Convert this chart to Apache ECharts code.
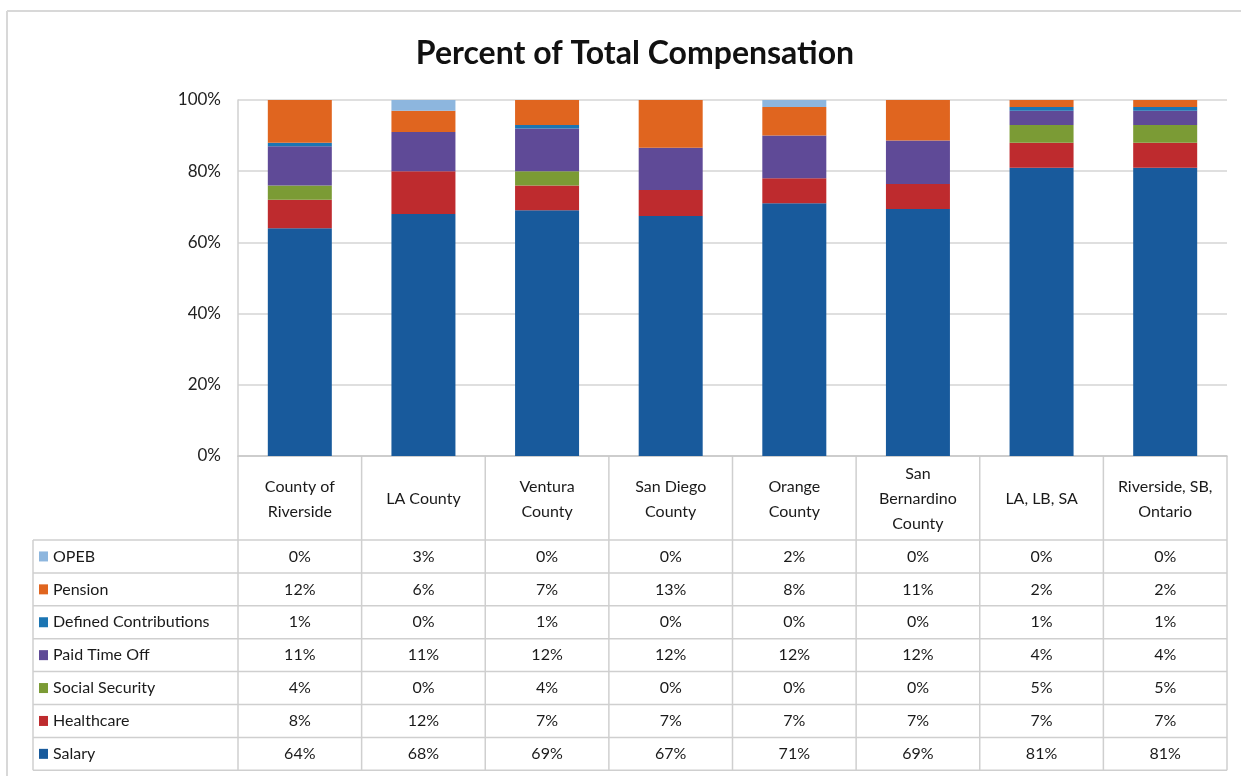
<!DOCTYPE html>
<html>
<head>
<meta charset="utf-8">
<script src="https://cdn.jsdelivr.net/npm/echarts@6/dist/echarts.min.js"></script>
<style>
html,body{margin:0;padding:0;background:#fff;}
#c{width:1241px;height:776px;}
</style>
</head>
<body>
<div id="c"></div>
<script>
// ---- data ----
const categories = ['County of Riverside','LA County','Ventura County','San Diego County','Orange County','San Bernardino County','LA, LB, SA','Riverside, SB, Ontario'];
const headerLabels = ['County of\nRiverside','LA County','Ventura\nCounty','San Diego\nCounty','Orange\nCounty','San\nBernardino\nCounty','LA, LB, SA','Riverside, SB,\nOntario'];
// values (table shows them rounded)
const salary        = [64, 68, 69, 67.4, 71, 69.4, 81, 81];
const healthcare    = [ 8, 12,  7,  7.3,  7,  7.0,  7,  7];
const socialSecurity= [ 4,  0,  4,  0,    0,  0,    5,  5];
const paidTimeOff   = [11, 11, 12, 11.9, 12, 12.2,  4,  4];
const definedContrib= [ 1,  0,  1,  0,    0,  0,    1,  1];
const pension       = [12,  6,  7, 13.4,  8, 11.4,  2,  2];
const opeb          = [ 0,  3,  0,  0,    2,  0,    0,  0];
const yTicks = [0, 20, 40, 60, 80, 100];

// stacking order bottom -> top
const seriesDefs = [
  {name:'Salary', data:salary, color:'#185A9C'},
  {name:'Healthcare', data:healthcare, color:'#BE2B2E'},
  {name:'Social Security', data:socialSecurity, color:'#7B9B35'},
  {name:'Paid Time Off', data:paidTimeOff, color:'#5F4A97'},
  {name:'Defined Contributions', data:definedContrib, color:'#1B75B3'},
  {name:'Pension', data:pension, color:'#E0651F'},
  {name:'OPEB', data:opeb, color:'#8DB6DE'}
];
// table row order (top -> bottom)
const tableOrder = ['OPEB','Pension','Defined Contributions','Paid Time Off','Social Security','Healthcare','Salary'];

const FONT = 'Lato, "Open Sans", sans-serif';
const TXT = '#1a1a1a';
const chart = echarts.init(document.getElementById('c'), null, {renderer:'canvas'});

const G = {left:238, right:14, top:100, bottom:320};
chart.setOption({
  animation:false,
  backgroundColor:'#fff',
  title:{text:'Percent of Total Compensation', left:630, textAlign:'center', top:33,
    textStyle:{fontFamily:FONT, fontSize:32, fontWeight:'bold', color:'#111'}},
  grid:G,
  xAxis:{type:'category', data:categories,
    axisLine:{show:true, lineStyle:{color:'#c8c8c8', width:1.5}},
    axisTick:{show:false}, axisLabel:{show:false}},
  yAxis:{type:'value', min:yTicks[0], max:yTicks[yTicks.length-1], interval:yTicks[1]-yTicks[0],
    axisLine:{show:true, lineStyle:{color:'#d0d0d0', width:1.5}},
    axisTick:{show:false},
    splitLine:{lineStyle:{color:'#d4d4d4', width:1.5}},
    axisLabel:{formatter:v=>v+'%', fontFamily:FONT, fontSize:17, color:'#222', margin:17}},
  series:seriesDefs.map(s=>({
    name:s.name, type:'bar', stack:'total', data:s.data, barWidth:64,
    itemStyle:{color:s.color}
  }))
});

// ---- data table drawn under the axis ----
function buildTable(){
  const xs = categories.map((c,i)=>chart.convertToPixel({xAxisIndex:0}, i));
  const band = xs.length>1 ? xs[1]-xs[0] : 120;
  const x0 = xs[0]-band/2, x1 = xs[xs.length-1]+band/2;
  const yAxisBase = chart.convertToPixel({yAxisIndex:0}, 0);
  const headerBottom = 540, rowH = 32.9, legendLeft = 33;
  const lineCol = '#cfcfcf';
  const els = [];
  // outer frame
  els.push({type:'line', shape:{x1:7,y1:11,x2:1241,y2:11}, style:{stroke:'#d8d8d8', lineWidth:2}});
  els.push({type:'line', shape:{x1:7,y1:11,x2:7,y2:776}, style:{stroke:'#d8d8d8', lineWidth:2}});
  // column boundaries
  for(let i=0;i<=xs.length;i++){
    const x = x0 + i*band;
    els.push({type:'line', shape:{x1:x,y1:yAxisBase,x2:x,y2:headerBottom+rowH*7}, style:{stroke:lineCol, lineWidth:1.5}});
  }
  els.push({type:'line', shape:{x1:legendLeft,y1:headerBottom,x2:legendLeft,y2:headerBottom+rowH*7}, style:{stroke:lineCol, lineWidth:1.5}});
  // row boundaries
  for(let r=0;r<=7;r++){
    const y = headerBottom + r*rowH;
    els.push({type:'line', shape:{x1:legendLeft,y1:y,x2:x1,y2:y}, style:{stroke:lineCol, lineWidth:1.5}});
  }
  // header labels
  headerLabels.forEach((t,i)=>{
    els.push({type:'text', x:xs[i], y:(yAxisBase+headerBottom)/2+1,
      style:{text:t, fontFamily:FONT, fontSize:16, fill:TXT, align:'center', verticalAlign:'middle', lineHeight:25}});
  });
  // rows
  tableOrder.forEach((name,r)=>{
    const s = seriesDefs.find(d=>d.name===name);
    const cy = headerBottom + (r+0.5)*rowH;
    els.push({type:'rect', shape:{x:39,y:cy-5,width:9,height:10}, style:{fill:s.color}});
    els.push({type:'text', x:53, y:cy, style:{text:name, fontFamily:FONT, fontSize:16, fill:TXT, align:'left', verticalAlign:'middle'}});
    s.data.forEach((v,i)=>{
      els.push({type:'text', x:xs[i], y:cy, style:{text:Math.round(v)+'%', fontFamily:FONT, fontSize:16, fill:TXT, align:'center', verticalAlign:'middle'}});
    });
  });
  chart.setOption({graphic:{elements:els}});
}
buildTable();
</script>
</body>
</html>
